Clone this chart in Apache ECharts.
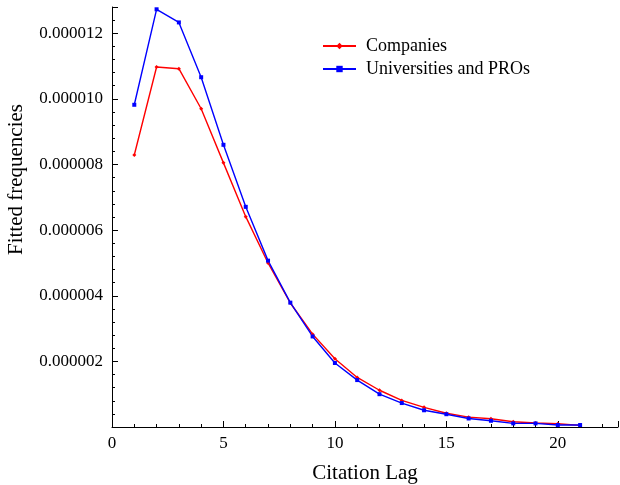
<!DOCTYPE html>
<html><head><meta charset="utf-8">
<script src="https://cdn.jsdelivr.net/npm/echarts@6/dist/echarts.min.js"></script>
<style>html,body{margin:0;padding:0;background:#fff}#c{width:620px;height:485px}</style>
</head><body><div id="c"></div>
<script>
const lags = [1,2,3,4,5,6,7,8,9,10,11,12,13,14,15,16,17,18,19,20,21];
const companies = [8.29,10.97,10.92,9.70,8.05,6.41,5.00,3.78,2.83,2.08,1.51,1.12,0.81,0.60,0.42,0.30,0.25,0.16,0.12,0.10,0.05];
const universities = [9.82,12.73,12.33,10.66,8.60,6.71,5.07,3.79,2.76,1.95,1.43,1.00,0.73,0.51,0.39,0.26,0.19,0.11,0.11,0.06,0.06];
const yTickLabels = ['0.000002','0.000004','0.000006','0.000008','0.000010','0.000012'];
const scale = 1e-6;

const font = 'Liberation Serif';
const chart = echarts.init(document.getElementById('c'));
const pts = arr => lags.map((x,i)=>[x, arr[i]*scale]);
chart.setOption({
  animation:false,
  grid:{left:112,top:7,right:2,bottom:58,containLabel:false,outerBoundsMode:'none'},
  legend:{
    left:317, top:32, orient:'vertical', itemGap:5, itemWidth:33, itemHeight:8,
    textStyle:{fontFamily:font,fontSize:18,color:'#000',padding:[0,0,0,5]},
    data:['Companies','Universities and PROs']
  },
  xAxis:{
    type:'value', min:0, max:22.7, interval:5,
    name:'Citation Lag', nameLocation:'middle', nameGap:36,
    nameTextStyle:{fontFamily:font,fontSize:21,color:'#000'},
    axisLine:{lineStyle:{color:'#000',width:1}},
    axisTick:{inside:true,length:6,lineStyle:{color:'#000'}},
    minorTick:{show:true,splitNumber:5,length:3,lineStyle:{color:'#000'}},
    axisLabel:{showMaxLabel:false,fontFamily:font,fontSize:17,color:'#000',margin:8},
    splitLine:{show:false}
  },
  yAxis:{
    type:'value', min:0, max:12.8e-6, interval:2e-6,
    axisLine:{show:true,lineStyle:{color:'#000',width:1}},
    axisTick:{show:true,inside:true,length:6,lineStyle:{color:'#000'}},
    minorTick:{show:true,splitNumber:5,length:3,lineStyle:{color:'#000'}},
    axisLabel:{showMinLabel:false,showMaxLabel:false,fontFamily:font,fontSize:17,color:'#000',margin:9,
      formatter:v=>{const k=Math.round(v/2e-6); return (k>=1&&k<=yTickLabels.length&&Math.abs(v-k*2e-6)<1e-9)?yTickLabels[k-1]:'';}},
    splitLine:{show:false}
  },
  graphic:[{
    type:'text', left:6, top:104, rotation:Math.PI/2,
    style:{text:'Fitted frequencies',font:'21px "Liberation Serif"',fill:'#000'}
  }],
  series:[
    {name:'Companies',type:'line',data:pts(companies),symbol:'diamond',symbolSize:4,
     lineStyle:{color:'#ff0000',width:1.4},itemStyle:{color:'#ff0000'},color:'#ff0000'},
    {name:'Universities and PROs',type:'line',data:pts(universities),symbol:'rect',symbolSize:4,
     lineStyle:{color:'#0000ff',width:1.4},itemStyle:{color:'#0000ff'},color:'#0000ff'}
  ]
});
</script></body></html>
